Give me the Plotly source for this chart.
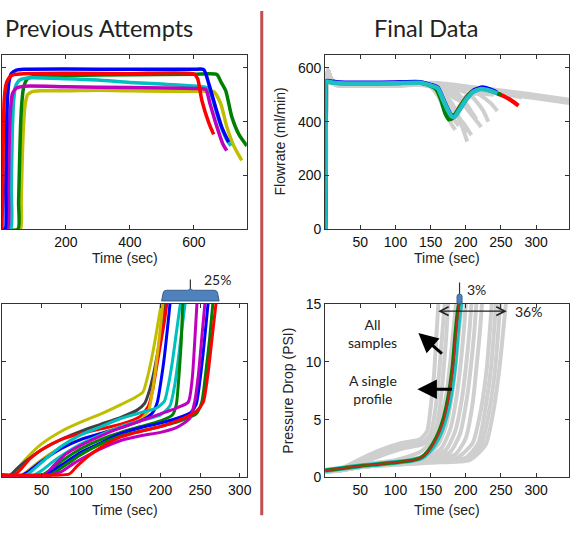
import plotly.graph_objects as go

W, H = 585, 534

# ---------------- DATA ----------------
# Top-left: Previous attempts, flowrate (ml/min) vs time (sec)
tl_red_x = [0, 2, 4, 7, 12, 20, 35, 60, 200, 400, 600, 612, 625, 647, 662]
tl_red_y = [0, 150, 350, 480, 535, 560, 575, 578, 580, 579, 578, 560, 480, 396, 353]
tl_blue_x = [0, 10, 12, 14, 17, 22, 30, 45, 70, 200, 400, 600, 631, 647, 668, 688, 709]
tl_blue_y = [0, 0, 150, 350, 480, 550, 580, 592, 595, 596, 595, 595, 594, 541, 454, 378, 324]
tl_magenta_x = [0, 18, 20, 23, 27, 33, 45, 70, 200, 400, 600, 637, 650, 670, 690, 703]
tl_magenta_y = [0, 0, 150, 350, 450, 505, 525, 532, 530, 527, 524, 520, 470, 390, 320, 292]
tl_cyan_x = [0, 27, 29, 32, 36, 42, 55, 80, 200, 300, 400, 500, 600, 645, 660, 680, 700, 716]
tl_cyan_y = [0, 0, 150, 350, 470, 530, 555, 563, 560, 555, 546, 540, 533, 525, 480, 400, 340, 310]
tl_green_x = [0, 50, 52, 55, 58, 62, 68, 80, 100, 200, 400, 600, 672, 685, 700, 719, 741, 766]
tl_green_y = [0, 0, 100, 250, 380, 470, 530, 560, 568, 572, 575, 577, 576, 548, 515, 418, 353, 310]
tl_yellow_x = [0, 57, 60, 63, 67, 72, 80, 95, 120, 200, 300, 400, 500, 600, 662, 684, 703, 725, 750]
tl_yellow_y = [0, 0, 100, 250, 380, 460, 500, 512, 515, 515, 517, 515, 513, 513, 512, 468, 382, 310, 256]

# Top-right: Final data, flowrate
tr_gray_base_x = [0, 1, 2, 4, 8, 15, 60, 100, 130]
tr_gray_base_y = [0, 300, 560, 592, 562, 545, 540, 542, 545]
tr_gray_base2_y = [0, 300, 555, 580, 555, 537, 533, 535, 538]
tr_gray_tails = [
    ([150, 170, 200, 240, 280, 320, 347], [540, 532, 522, 510, 495, 480, 470]),
    ([150, 175, 205, 245, 285, 325, 347], [545, 540, 530, 518, 505, 490, 482]),
    ([160, 200, 240, 270, 290], [537, 527, 516, 502, 490]),
    ([150, 165, 175, 182, 195, 215, 235, 260, 280], [535, 500, 440, 420, 470, 515, 522, 502, 490]),
    ([150, 162, 170, 176, 180, 185], [530, 490, 440, 410, 390, 370]),
    ([155, 170, 185, 195, 202], [530, 500, 440, 380, 326]),
    ([160, 180, 195, 210, 222], [535, 510, 470, 420, 380]),
    ([165, 190, 210, 225, 232], [540, 520, 490, 440, 400]),
    ([170, 200, 220, 235, 245], [540, 525, 500, 470, 440]),
    ([150, 165, 172, 178, 190, 200, 215, 240], [530, 480, 430, 400, 455, 490, 505, 500]),
    ([160, 180, 188, 192, 196, 200], [530, 470, 430, 400, 380, 358]),
    ([155, 168, 176, 183, 190], [532, 500, 450, 410, 385]),
    ([165, 185, 200, 210, 215], [538, 515, 470, 430, 410]),
    ([160, 175, 190, 205, 230, 250, 265], [535, 505, 480, 500, 520, 510, 500]),
    ([155, 172, 186, 198, 208], [530, 490, 430, 390, 350]),
]
tr_cyan_x = [0, 1, 2, 5, 20, 60, 100, 135, 150, 160, 168, 175, 180, 184, 190, 200, 210, 222, 235, 245]
tr_cyan_y = [0, 300, 550, 548, 543, 542, 543, 545, 535, 525, 480, 440, 420, 418, 440, 480, 510, 522, 515, 505]
tr_red_x = [0, 1, 2, 5, 20, 60, 100, 135, 150, 160, 166, 172, 178, 182, 188, 198, 208, 220, 235, 245, 255, 265, 275]
tr_red_y = [0, 300, 550, 550, 545, 544, 545, 546, 535, 522, 480, 435, 410, 416, 440, 480, 510, 524, 516, 505, 494, 479, 460]
tr_green_x = [0, 1, 2, 5, 20, 60, 100, 135, 150, 158, 165, 171, 176, 181, 188, 198, 208, 220, 235, 250]
tr_green_y = [0, 300, 550, 548, 543, 542, 543, 545, 533, 520, 480, 430, 408, 414, 440, 480, 510, 524, 516, 500]
tr_blue_x = [0, 1, 2, 5, 20, 60, 100, 135, 150, 160, 168, 175, 180, 185, 192, 202, 212, 224, 235, 245]
tr_blue_y = [0, 300, 552, 552, 547, 546, 547, 548, 538, 528, 484, 444, 424, 424, 448, 488, 518, 528, 520, 508]

# Bottom-left: Previous attempts, pressure drop (PSI)
bl_series = [
    ("#bfbf00", [0, 12, 20, 30, 50, 75, 100, 125, 150, 170, 178, 183, 188, 193, 198, 201],
     [0.2, 0.2, 0.8, 1.6, 2.9, 4.0, 4.8, 5.5, 6.3, 7.0, 7.4, 8.5, 10, 11.8, 13.8, 15]),
    ("#404040", [0, 10, 18, 30, 50, 75, 100, 125, 150, 170, 180, 186, 192, 197, 202, 206],
     [0.2, 0.2, 0.7, 1.4, 2.4, 3.3, 4.0, 4.6, 5.2, 5.8, 6.4, 7.5, 9.2, 11, 13, 15]),
    ("#ff0000", [0, 15, 25, 35, 50, 75, 100, 125, 150, 175, 185, 190, 195, 200, 205, 208],
     [0.2, 0.2, 0.8, 1.6, 2.4, 3.3, 3.8, 4.2, 4.6, 5.3, 6.2, 7.5, 9.5, 11.5, 13.5, 15]),
    ("#d8b000", [0, 25, 40, 60, 80, 100, 125, 150, 175, 185, 190, 195, 200, 203],
     [0.2, 0.2, 1.0, 2.0, 2.8, 3.3, 3.8, 4.4, 5.0, 5.8, 7.5, 10, 13, 15]),
    ("#0000ff", [0, 25, 35, 50, 75, 100, 125, 150, 175, 190, 196, 201, 205, 209, 212],
     [0.2, 0.2, 0.6, 1.4, 2.5, 3.3, 3.8, 4.3, 4.9, 5.6, 6.5, 8.5, 10.5, 13, 15]),
    ("#00bfbf", [0, 30, 40, 55, 75, 100, 125, 150, 175, 195, 205, 210, 215, 220, 225],
     [0.2, 0.2, 0.7, 1.6, 2.7, 3.7, 4.4, 5.1, 5.6, 6.0, 6.6, 8.0, 10, 12.5, 15]),
    ("#00bfbf", [0, 40, 50, 65, 85, 100, 125, 150, 175, 200, 212, 218, 223, 227, 231],
     [0.2, 0.2, 0.6, 1.4, 2.3, 2.9, 3.7, 4.4, 4.9, 5.4, 6.2, 8.0, 10.5, 12.8, 15]),
    ("#008000", [0, 50, 60, 75, 100, 125, 150, 175, 200, 215, 220, 223, 226, 228],
     [0.2, 0.2, 0.6, 1.4, 2.5, 3.3, 3.9, 4.4, 4.9, 5.4, 6.3, 8.5, 11.5, 15]),
    ("#bf00bf", [0, 15, 55, 65, 80, 100, 125, 150, 175, 200, 220, 235, 240, 243, 246],
     [0.2, 0.2, 0.3, 1.0, 2.0, 2.8, 3.6, 4.3, 4.9, 5.5, 6.0, 6.5, 8.5, 11.5, 15]),
    ("#0000ff", [0, 55, 65, 80, 100, 125, 150, 175, 200, 220, 238, 245, 250, 255, 260],
     [0.2, 0.2, 0.6, 1.3, 2.2, 3.0, 3.8, 4.3, 4.7, 5.1, 5.6, 6.3, 8.5, 11.5, 15]),
    ("#008000", [0, 60, 70, 85, 100, 125, 150, 175, 200, 225, 245, 252, 257, 262, 266],
     [0.2, 0.2, 0.6, 1.3, 2.0, 2.9, 3.6, 4.0, 4.4, 4.9, 5.5, 6.5, 9, 12, 15]),
    ("#bf00bf", [0, 60, 75, 90, 100, 125, 150, 175, 200, 220, 237, 243, 248, 252, 256],
     [0.2, 0.2, 0.5, 1.2, 1.6, 2.5, 3.2, 3.6, 3.9, 4.3, 5.1, 6.5, 9, 12, 15]),
    ("#ff0000", [0, 70, 85, 95, 110, 125, 150, 175, 200, 225, 245, 254, 260, 265, 270],
     [0.2, 0.2, 0.3, 1.0, 1.9, 2.6, 3.5, 4.0, 4.4, 5.0, 5.7, 6.5, 9, 12, 15]),
]

# Bottom-right: Final data, pressure drop
br_gray_series = [
    ([0, 20, 50, 80, 110, 135, 145, 150, 155, 158, 161], [0.5, 0.7, 1.6, 2.4, 3.0, 3.3, 4.0, 6, 9, 12, 15]),
    ([0, 20, 50, 80, 110, 140, 150, 157, 162, 166, 170], [0.5, 0.7, 1.4, 2.1, 2.7, 3.1, 3.8, 6, 9, 12, 15]),
    ([0, 20, 50, 80, 110, 140, 155, 163, 168, 172, 175], [0.5, 0.6, 1.2, 1.9, 2.5, 2.9, 3.7, 6, 9, 12, 15]),
    ([0, 20, 50, 100, 135, 150, 162, 172, 178, 182, 186], [0.5, 0.6, 1.1, 1.5, 2.2, 3.0, 4.5, 7, 10, 12.5, 15]),
    ([0, 20, 50, 100, 140, 160, 172, 180, 186, 190, 194], [0.5, 0.6, 1.0, 1.4, 1.8, 2.8, 4.5, 7, 10, 12.5, 15]),
    ([0, 20, 50, 100, 145, 165, 178, 187, 193, 197, 200], [0.6, 0.6, 1.0, 1.3, 1.7, 2.5, 4.2, 7, 10, 12.5, 15]),
    ([0, 20, 50, 100, 150, 172, 185, 195, 201, 205, 208], [0.6, 0.6, 0.9, 1.2, 1.6, 2.4, 4.0, 7, 10, 12.5, 15]),
    ([0, 20, 50, 100, 150, 178, 192, 202, 208, 212, 215], [0.6, 0.6, 0.9, 1.2, 1.5, 2.2, 3.8, 7, 10, 12.5, 15]),
    ([0, 20, 50, 100, 150, 185, 200, 210, 216, 220, 223], [0.6, 0.6, 0.9, 1.2, 1.5, 2.0, 3.4, 6.5, 10, 12.5, 15]),
    ([0, 20, 50, 100, 150, 190, 210, 222, 230, 234, 237], [0.6, 0.6, 0.9, 1.2, 1.4, 1.8, 3.0, 6, 9.5, 12.5, 15]),
    ([0, 20, 50, 100, 150, 200, 218, 228, 236, 240, 243], [0.6, 0.6, 0.9, 1.2, 1.4, 1.7, 3.0, 6, 9.5, 12.5, 15]),
    ([0, 20, 50, 100, 150, 200, 222, 234, 242, 246, 249], [0.6, 0.6, 0.9, 1.1, 1.3, 1.6, 2.8, 6, 9.5, 12.5, 15]),
    ([0, 20, 50, 100, 150, 205, 228, 240, 248, 253, 257], [0.6, 0.6, 0.9, 1.1, 1.3, 1.5, 2.8, 6, 9.5, 12.5, 15]),
]
br_cyan_x = [0, 25, 50, 75, 100, 125, 137, 147, 156, 165, 172, 178, 184, 188, 191, 193]
br_cyan_y = [0.6, 0.8, 1.0, 1.15, 1.3, 1.5, 1.7, 2.2, 2.9, 4.0, 5.3, 7.0, 9.6, 12.4, 14.2, 15]
br_green_x = [0, 25, 50, 75, 100, 125, 136, 145, 153, 162, 169, 175, 181, 185, 188, 190]
br_green_y = [0.6, 0.8, 1.0, 1.15, 1.3, 1.5, 1.7, 2.2, 2.9, 4.0, 5.3, 7.0, 9.6, 12.4, 14.2, 15]
br_red_x = [0, 25, 50, 75, 100, 125, 136, 146, 154, 163, 170, 176, 182, 186, 189, 191]
br_red_y = [0.6, 0.8, 1.0, 1.15, 1.3, 1.5, 1.7, 2.2, 2.9, 4.0, 5.3, 7.0, 9.6, 12.4, 14.2, 15]

flow_ticks = [0, 200, 400, 600]
psi_ticks = [0, 5, 10, 15]
time_ticks_short = [50, 100, 150, 200, 250, 300]
time_ticks_long = [200, 400, 600]

# --------------- FIGURE ---------------
def px(x):
    return x / W

def py(y):
    return 1 - y / H

fig = go.Figure()

def add_line(xs, ys, color, width, axis, shape="spline"):
    fig.add_trace(go.Scatter(x=xs, y=ys, mode="lines",
                             line=dict(color=color, width=width, shape=shape, smoothing=0.6),
                             xaxis="x" + axis, yaxis="y" + axis, hoverinfo="skip"))

# top-left
for xs, ys, c in [(tl_yellow_x, tl_yellow_y, "#bfbf00"), (tl_green_x, tl_green_y, "#008000"),
                  (tl_cyan_x, tl_cyan_y, "#00bfbf"), (tl_magenta_x, tl_magenta_y, "#bf00bf"),
                  (tl_blue_x, tl_blue_y, "#0000ff"), (tl_red_x, tl_red_y, "#ff0000")]:
    add_line(xs, ys, c, 3.5, "")

# top-right
for i, (tx, ty) in enumerate(tr_gray_tails):
    base = tr_gray_base_y if i % 2 == 0 else tr_gray_base2_y
    add_line(tr_gray_base_x + tx, base + ty, "#cfcfcf", 4, "2")
add_line(tr_red_x, tr_red_y, "#ff0000", 4, "2")
add_line(tr_green_x, tr_green_y, "#008000", 4, "2")
add_line(tr_blue_x, tr_blue_y, "#0000ff", 4, "2")
add_line(tr_cyan_x, tr_cyan_y, "#1fbfbf", 4.5, "2")

# bottom-left
for c, xs, ys in bl_series:
    add_line(xs, ys, c, 3, "3")

# bottom-right
for xs, ys in br_gray_series:
    add_line(xs, ys, "#cfcfcf", 4, "4")
add_line(br_cyan_x, br_cyan_y, "#1fbfbf", 5, "4")
add_line(br_green_x, br_green_y, "#008000", 3.5, "4")
add_line(br_red_x, br_red_y, "#c0281e", 2, "4")

tickfont = dict(family="Liberation Sans, Arial", size=14, color="#111")

def axis(domain, rng, ticks, labels=True):
    return dict(domain=domain, range=rng, tickvals=ticks, showticklabels=labels,
                ticks="inside", ticklen=4, tickcolor="#333", mirror="ticks",
                showline=True, linecolor="#333", linewidth=1, showgrid=False,
                zeroline=False, tickfont=tickfont, fixedrange=True)

xl = [px(2), px(249)]
xr = [px(328), px(574)]
yt = [py(228), py(48)]
yb = [py(484), py(305)]

fig.update_layout(
    width=W, height=H, margin=dict(l=0, r=0, t=0, b=0),
    paper_bgcolor="white", plot_bgcolor="white", showlegend=False,
    xaxis=dict(axis(xl, [0, 766], time_ticks_long), anchor="y"),
    yaxis=dict(axis(yt, [0, 650], flow_ticks[1:], False), anchor="x"),
    xaxis2=dict(axis(xr, [0, 347], time_ticks_short), anchor="y2"),
    yaxis2=dict(axis(yt, [0, 650], flow_ticks), anchor="x2"),
    xaxis3=dict(axis(xl, [0, 309], time_ticks_short), anchor="y3"),
    yaxis3=dict(axis(yb, [0, 15], psi_ticks[1:3], False), anchor="x3"),
    xaxis4=dict(axis(xr, [0, 347], time_ticks_short), anchor="y4"),
    yaxis4=dict(axis(yb, [0, 15], psi_ticks), anchor="x4"),
)

calibri = "Lato, Carlito, Calibri, sans-serif"
arial = "Liberation Sans, Arial"

def text(t, x, y, size=14, family=arial, angle=0, color="#222"):
    fig.add_annotation(text=t, x=px(x), y=py(y), xref="paper", yref="paper",
                       showarrow=False, xanchor="center", yanchor="middle",
                       textangle=angle, font=dict(family=family, size=size, color=color))

text("Previous Attempts", 100, 21, 23.5, calibri)
text("Final Data", 430, 21, 23.5, calibri)
text("Time (sec)", 126, 258, 14)
text("Time (sec)", 451, 258, 14)
text("Time (sec)", 126, 517, 14)
text("Time (sec)", 451, 517, 14)
text("Flowrate (ml/min)", 282, 138, 14, angle=-90)
text("Pressure Drop (PSI)", 291, 395, 14, angle=-90)
text("25%", 219, 280, 14, calibri)
text("3%", 481, 290, 14, calibri)
text("36%", 533, 313, 14, calibri)
text("All<br>samples", 376, 336, 14, calibri)
text("A single<br>profile", 376, 393, 14, calibri)

# arrows
def arrow(x0, y0, x1, y1, width=3, head=2):
    fig.add_annotation(x=px(x1), y=py(y1), xref="paper", yref="paper",
                       ax=x0 - x1, ay=y0 - y1, axref="pixel", ayref="pixel",
                       showarrow=True, arrowhead=head, arrowsize=1.3, arrowwidth=width,
                       arrowcolor="black", text="")

arrow(447, 357, 422, 335)
arrow(457, 393, 421, 393)
fig.add_annotation(x=px(442), y=py(312.5), xref="paper", yref="paper",
                   ax=512 - 442, ay=0, axref="pixel", ayref="pixel",
                   showarrow=True, arrowhead=5, startarrowhead=5, arrowside="end+start",
                   arrowsize=1.2, startarrowsize=1.2, arrowwidth=1.4, arrowcolor="#222", text="")

def P(x, y):
    return f"{px(x):.5f},{py(y):.5f}"

brace = ("M " + P(163, 302) + " L " + P(164.5, 294) + " Q " + P(165, 291) + " " + P(168, 291) +
         " L " + P(189, 291) + " Q " + P(192, 291) + " " + P(192, 288.5) +
         " Q " + P(192, 291) + " " + P(195, 291) + " L " + P(216, 291) +
         " Q " + P(219, 291) + " " + P(219.5, 294) + " L " + P(221, 302) + " Z")
fig.add_shape(type="path", path=brace, xref="paper", yref="paper",
              fillcolor="#4f81bd", line=dict(color="#385d8a", width=1))
fig.add_shape(type="line", x0=px(192), x1=px(192), y0=py(289), y1=py(280),
              xref="paper", yref="paper", line=dict(color="#333", width=1.2))

tab = ("M " + P(461, 305) + " L " + P(461, 297) + " Q " + P(461, 295) + " " + P(463.5, 295) +
       " Q " + P(466, 295) + " " + P(466, 297) + " L " + P(466, 305) + " Z")
fig.add_shape(type="path", path=tab, xref="paper", yref="paper",
              fillcolor="#4f81bd", line=dict(color="#385d8a", width=1))
fig.add_shape(type="line", x0=px(463.5), x1=px(463.5), y0=py(295), y1=py(283),
              xref="paper", yref="paper", line=dict(color="#333", width=1.2))

# divider
fig.add_shape(type="line", x0=px(264), x1=px(264), y0=py(3), y1=py(523),
              xref="paper", yref="paper", line=dict(color="#c0504d", width=3))

fig.write_html("out.html")
